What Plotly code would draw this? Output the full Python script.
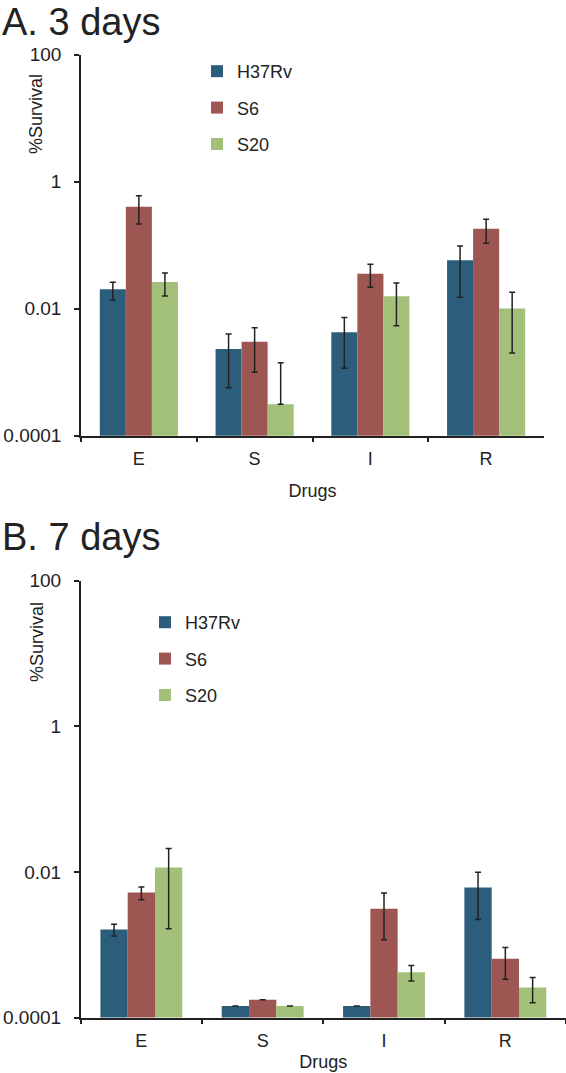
import plotly.graph_objects as go

drugs = ["E", "S", "I", "R"]
strains = ["H37Rv", "S6", "S20"]
colors = ["#2c5e7c", "#9d5652", "#a3c07a"]

# Panel A: 3 days (%Survival)
a_vals = {
    "H37Rv": [0.0202, 0.00232, 0.00425, 0.0578],
    "S6":    [0.404, 0.00302, 0.0356, 0.182],
    "S20":   [0.0263, 0.000312, 0.0157, 0.0101],
}
a_hi = {
    "H37Rv": [0.026, 0.0040, 0.00724, 0.097],
    "S6":    [0.60, 0.00502, 0.050, 0.256],
    "S20":   [0.0365, 0.00141, 0.0254, 0.0181],
}
a_lo = {
    "H37Rv": [0.0137, 0.00057, 0.00115, 0.0151],
    "S6":    [0.216, 0.0010, 0.0217, 0.107],
    "S20":   [0.0158, 0.000312, 0.0054, 0.0020],
}

# Panel B: 7 days (%Survival)
b_vals = {
    "H37Rv": [0.00162, 0.000144, 0.000144, 0.00612],
    "S6":    [0.00522, 0.000176, 0.00312, 0.00064],
    "S20":   [0.01153, 0.000144, 0.000419, 0.000258],
}
b_hi = {
    "H37Rv": [0.00191, None, None, 0.0099],
    "S6":    [0.00618, None, 0.00512, 0.000914],
    "S20":   [0.021, None, 0.000518, 0.000354],
}
b_lo = {
    "H37Rv": [0.00132, None, None, 0.00222],
    "S6":    [0.00414, None, 0.00117, 0.000335],
    "S20":   [0.00166, None, 0.000318, 0.000159],
}

tick_vals = [0.0001, 0.01, 1, 100]
tick_text = ["0.0001", "0.01", "1", "100"]

FONT = "Liberation Sans, Arial, sans-serif"
TXT = "#222222"
fig = go.Figure()

def add_panel(vals, hi, lo, xa, ya, legend):
    for s, c in zip(strains, colors):
        v = vals[s]
        plus = [(h - y) if h is not None else 0 for h, y in zip(hi[s], v)]
        minus = [(y - l) if l is not None else 0 for l, y in zip(lo[s], v)]
        fig.add_trace(go.Bar(
            x=drugs, y=v, name=s, marker=dict(color=c, line=dict(width=0)),
            error_y=dict(type="data", symmetric=False, array=plus, arrayminus=minus,
                         color=TXT, thickness=1.5, width=3),
            xaxis=xa, yaxis=ya, legend=legend, legendgroup=legend + s,
        ))

add_panel(a_vals, a_hi, a_lo, "x", "y", "legend")
add_panel(b_vals, b_hi, b_lo, "x2", "y2", "legend2")

yax = dict(type="log", range=[-4, 2], tickvals=tick_vals, ticktext=tick_text,
           showline=True, linecolor=TXT, linewidth=1.5, ticks="outside",
           ticklen=5, tickcolor=TXT, tickwidth=1.5, showgrid=False,
           zeroline=False, tickfont=dict(size=19, color=TXT, family=FONT),
           ticklabelstandoff=9, automargin=False)
xax = dict(type="category", range=[-0.5, 3.5], showline=True, linecolor=TXT,
           linewidth=1.5, ticks="outside", tickson="boundaries", ticklen=5,
           tickcolor=TXT, tickwidth=1.5, showgrid=False, automargin=False,
           ticklabelstandoff=6,
           tickfont=dict(size=18, color=TXT, family=FONT))

H = 1073
W = 566
fig.update_layout(
    width=W, height=H, margin=dict(l=0, r=0, t=0, b=0, autoexpand=False),
    paper_bgcolor="white", plot_bgcolor="white",
    barmode="group", bargap=0.325, bargroupgap=0,
    font=dict(family=FONT, color=TXT),
    xaxis=dict(xax, domain=[81/W, 544/W], anchor="y",
               title=dict(text="Drugs", font=dict(size=18, family=FONT), standoff=16)),
    yaxis=dict(yax, domain=[(H-435.7)/H, (H-54.7)/H], anchor="x"),
    xaxis2=dict(xax, domain=[80.7/W, 1.0], anchor="y2",
                title=dict(text="Drugs", font=dict(size=18, family=FONT), standoff=6)),
    yaxis2=dict(yax, domain=[(H-1017.5)/H, (H-580.7)/H], anchor="x2"),
    legend=dict(x=197/W, y=(H-53)/H, xanchor="left", yanchor="top",
                tracegroupgap=10, font=dict(size=18, family=FONT),
                bgcolor="rgba(0,0,0,0)"),
    legend2=dict(x=145/W, y=(H-604)/H, xanchor="left", yanchor="top",
                 tracegroupgap=10, font=dict(size=18, family=FONT),
                 bgcolor="rgba(0,0,0,0)"),
    showlegend=True,
)

fig.add_annotation(text="A. 3 days", x=0, y=1.0, xref="paper", yref="paper",
                   xanchor="left", yanchor="top", showarrow=False, yshift=1,
                   font=dict(size=38, family=FONT, color=TXT))
fig.add_annotation(text="B. 7 days", x=0, y=(H - 514)/H, xref="paper", yref="paper",
                   xanchor="left", yanchor="top", showarrow=False,
                   font=dict(size=38, family=FONT, color=TXT))
fig.add_annotation(text="%Survival", x=36/W, y=(H-114)/H, xref="paper", yref="paper",
                   textangle=-90, showarrow=False, xanchor="center", yanchor="middle",
                   font=dict(size=18, family=FONT, color=TXT))
fig.add_annotation(text="%Survival", x=37/W, y=(H-642)/H, xref="paper", yref="paper",
                   textangle=-90, showarrow=False, xanchor="center", yanchor="middle",
                   font=dict(size=18, family=FONT, color=TXT))

fig.write_html("out.html", config={"displayModeBar": False},
               post_script="document.body.style.margin='0';document.body.style.padding='0';")
